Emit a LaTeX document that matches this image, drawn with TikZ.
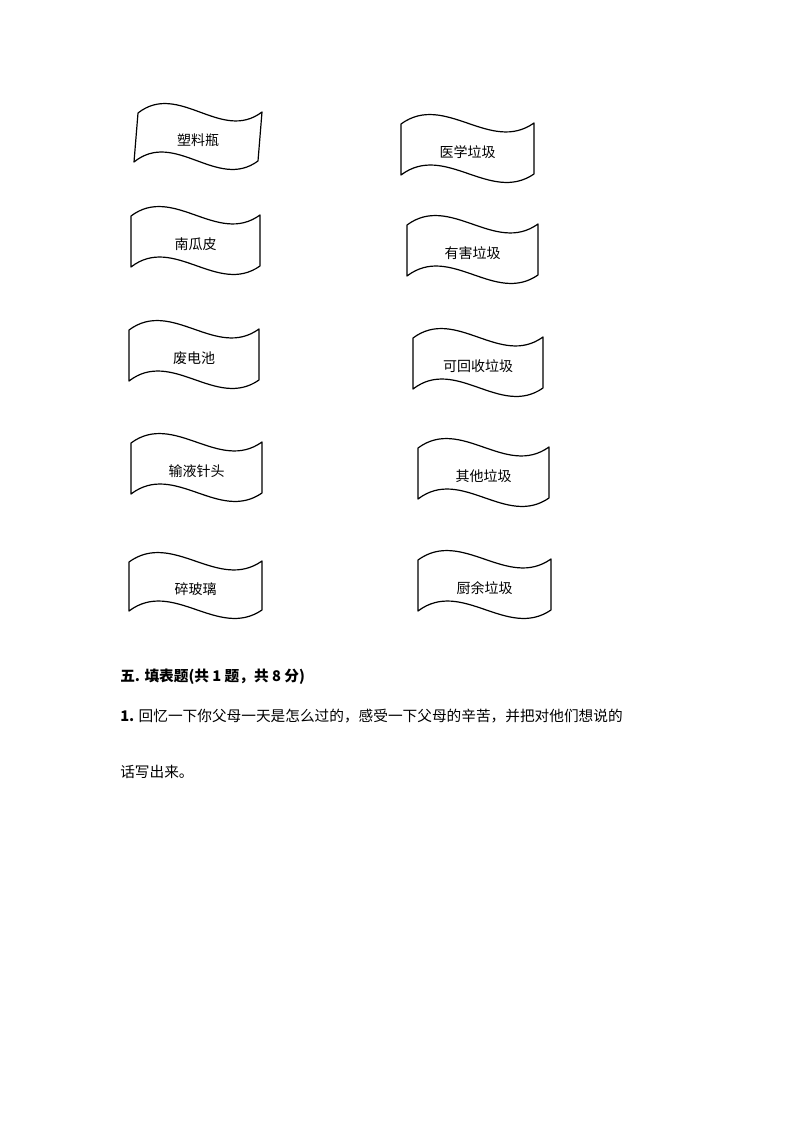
\documentclass[tikz,border=0pt]{standalone}
\usepackage{fontspec}
\newfontfamily\cjk{Noto Sans CJK SC}
\begin{document}
\begin{tikzpicture}[x=0.75pt,y=-0.75pt,
  lbl/.style={font=\cjk\fontsize{10.5pt}{12pt}\selectfont},
  txt/.style={font=\cjk\fontsize{11pt}{13pt}\selectfont,anchor=west,inner sep=0pt},
  ban/.style={draw,line width=0.9pt,line join=round}]
\useasboundingbox (0,0) rectangle (794,1123);
% \banner{L}{R}{T}{H}{slant}{name}{text}
\newcommand\mybanner[7]{%
  \draw[ban] (#1+#5,#3) .. controls ({#1+#5+0.33*(#2-#1)},#3-32) and ({#1+#5+0.67*(#2-#1)},#3+30) .. (#2+#5,#3-1)
    -- (#2,#3+#4) .. controls ({#1+0.67*(#2-#1)},#3+#4+30) and ({#1+0.33*(#2-#1)},#3+#4-32) .. (#1,#3+#4+1) -- cycle;
  \node[lbl] (#6) at ({(#1+#2)/2+#5/2},#3+#4/2+3) {#7};}
\mybanner{134}{258}{113}{48}{4}{a1}{塑料瓶}
\mybanner{401}{534}{124}{50}{0}{b1}{医学垃圾}
\mybanner{131}{260}{216}{50}{0}{a2}{南瓜皮}
\mybanner{407}{538}{225}{50}{0}{b2}{有害垃圾}
\mybanner{129}{259}{330}{50}{0}{a3}{废电池}
\mybanner{413}{543}{338}{50}{0}{b3}{可回收垃圾}
\mybanner{131}{262}{443}{50}{0}{a4}{输液针头}
\mybanner{418}{549}{448}{50}{0}{b4}{其他垃圾}
\mybanner{129}{262}{562}{48}{0}{a5}{碎玻璃}
\mybanner{418}{551}{560}{50}{0}{b5}{厨余垃圾}
\node[txt,font=\cjk\bfseries\fontsize{11pt}{13pt}\selectfont] (h) at (120,677) {五. 填表题(共 1 题，共 8 分)};
\node[txt] (q1) at (120,716) {\textbf{1.} 回忆一下你父母一天是怎么过的，感受一下父母的辛苦，并把对他们想说的};
\node[txt] (q2) at (120,772) {话写出来。};
\end{tikzpicture}
\end{document}
